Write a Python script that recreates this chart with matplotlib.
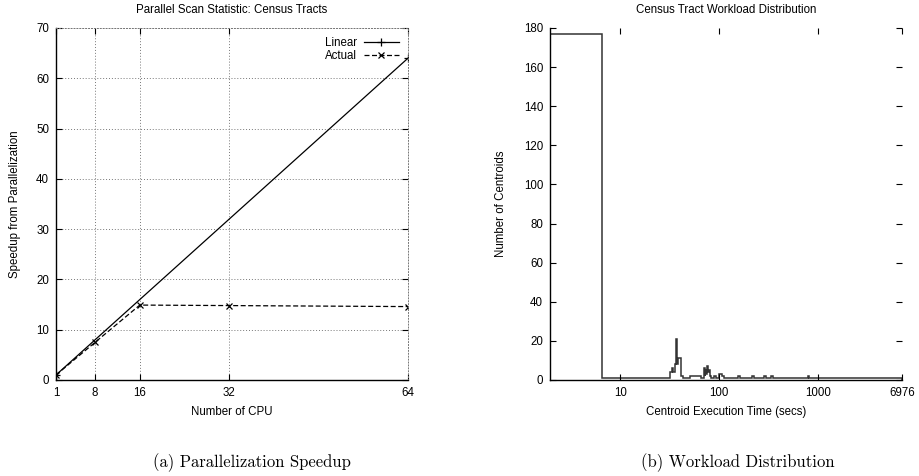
import matplotlib
matplotlib.use("Agg")
import matplotlib.pyplot as plt
from matplotlib.ticker import FixedLocator, FixedFormatter, NullLocator

plt.rcParams['font.family'] = ['Liberation Sans', 'DejaVu Sans']
plt.rcParams['font.size'] = 8

# (a) speedup data
linear_cpus = [1, 64]
linear_speedup = [1, 64]
actual_cpus = [1, 8, 16, 32, 64]
actual_speedup = [1, 7.5, 14.9, 14.8, 14.6]
cpu_ticks = [1, 8, 16, 32, 64]
speedup_ticks = [0, 10, 20, 30, 40, 50, 60, 70]

# (b) workload histogram: bin edges (secs) and number of centroids per bin
time_edges = [1.96, 6.6, 32, 33.5, 34.5, 35.5, 36.5, 37.2, 38.5, 41.5, 43, 51, 66,
              70, 71, 72, 74, 75, 76.5, 78, 80, 82, 88, 92, 100, 106, 112, 155, 162,
              215, 222, 285, 295, 330, 345, 780, 810, 6976]
centroid_counts = [177, 1, 4, 6, 4, 8, 21, 8, 11, 2, 1, 2,
                   1, 6, 2, 5, 3, 7, 4, 5, 2, 1, 2, 1, 3, 2, 1, 2,
                   1, 2, 1, 2, 1, 2, 1, 2, 1]
time_ticks = [10, 100, 1000, 6976]
time_labels = ['10', '100', '1000', '6976']
count_ticks = [0, 20, 40, 60, 80, 100, 120, 140, 160, 180]

fig = plt.figure(figsize=(9.2, 4.76), dpi=100)
ax1 = fig.add_axes([56 / 920, 96 / 476, 352 / 920, 352 / 476])
ax2 = fig.add_axes([550 / 920, 96 / 476, 352 / 920, 352 / 476])

for ax in (ax1, ax2):
    ax.tick_params(direction='in', top=True, right=True, length=4, width=0.8,
                   labelsize=8.3, pad=5)
    ax.spines['left'].set_linewidth(1.0)
    ax.spines['bottom'].set_linewidth(1.0)

# ---- (a) Parallelization Speedup
ax1.plot(linear_cpus, linear_speedup, color='black', lw=0.9, marker='+', ms=6,
         mew=0.9, label='Linear')
ax1.plot(actual_cpus, actual_speedup, color='black', lw=0.9, ls=(0, (4, 2)),
         marker='x', ms=5, mew=0.9, label='Actual')
ax1.set_xlim(1, 64)
ax1.set_ylim(0, 70)
ax1.set_xticks(cpu_ticks)
ax1.set_yticks(speedup_ticks)
ax1.grid(True, color='#777777', ls=(0, (1, 2)), lw=0.7)
for s in ('top', 'right'):
    ax1.spines[s].set_linestyle((0, (1, 2)))
    ax1.spines[s].set_linewidth(0.7)
    ax1.spines[s].set_color('#777777')
ax1.set_title('Parallel Scan Statistic: Census Tracts', fontsize=8.3, pad=11)
ax1.set_xlabel('Number of CPU', fontsize=8.3, labelpad=5)
ax1.set_ylabel('Speedup from Parallelization', fontsize=8.3, labelpad=11)
leg = ax1.legend(loc='upper right', frameon=False, markerfirst=False, fontsize=8.3,
                 handlelength=3.0, handletextpad=0.6, labelspacing=0.1,
                 borderaxespad=0.4)

# ---- (b) Workload Distribution
ax2.stairs(centroid_counts, time_edges, color='#333333', lw=1.1, baseline=0)
ax2.set_xscale('log')
ax2.set_xlim(time_edges[0], time_edges[-1])
ax2.set_ylim(0, 180)
ax2.xaxis.set_major_locator(FixedLocator(time_ticks))
ax2.xaxis.set_major_formatter(FixedFormatter(time_labels))
ax2.xaxis.set_minor_locator(NullLocator())
ax2.set_yticks(count_ticks)
ax2.spines['top'].set_visible(False)
ax2.spines['right'].set_visible(False)
ax2.set_title('Census Tract Workload Distribution', fontsize=8.3, pad=11)
ax2.set_xlabel('Centroid Execution Time (secs)', fontsize=8.3, labelpad=5)
ax2.set_ylabel('Number of Centroids', fontsize=8.3, labelpad=12)

# captions
fig.text(252 / 920, 1 - 463 / 476, '(a) Parallelization Speedup', ha='center',
         va='center', fontsize=12, family='cmr10')
fig.text(738 / 920, 1 - 463 / 476, '(b) Workload Distribution', ha='center',
         va='center', fontsize=12, family='cmr10')

fig.savefig('out.png', dpi=100)
